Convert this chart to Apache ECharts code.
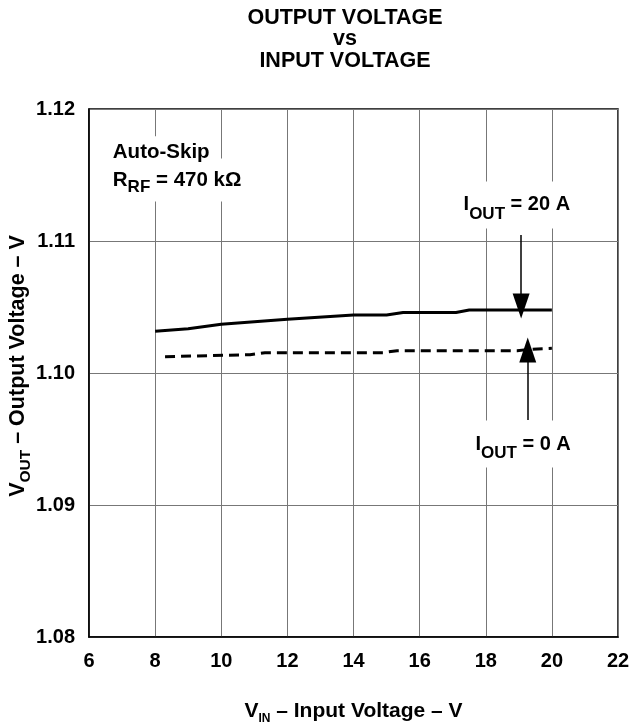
<!DOCTYPE html>
<html>
<head>
<meta charset="utf-8">
<script src="https://cdn.jsdelivr.net/npm/echarts@6/dist/echarts.min.js"></script>
<style>
html,body{margin:0;padding:0;background:#fff;}
#c{width:629px;height:725px;}
</style>
</head>
<body>
<div id="c"></div>
<script>
// ---- data ----
const vinLoad20 = [8, 9, 10, 12, 14, 15, 15.5, 17.1, 17.5, 20];
const voutLoad20 = [1.10316, 1.10335, 1.10370, 1.10408, 1.10440, 1.10440, 1.10459, 1.10459, 1.10478, 1.10478];
const vinLoad0 = [8.3, 10.87, 11.32, 14.89, 15.32, 18.95, 19.34, 20];
const voutLoad0 = [1.10124, 1.10139, 1.10154, 1.10154, 1.10169, 1.10169, 1.10180, 1.10187];
const xTickMin = 6, xTickMax = 22, xTickStep = 2;
const yTickMin = 1.08, yTickMax = 1.12, yTickStep = 0.01;
const titleLines = ['OUTPUT VOLTAGE', 'vs', 'INPUT VOLTAGE'];
// arrow annotations: [x, yStart, yTip]
const arrow20 = [19.07, 1.11045, 1.10508];
const arrow0 = [19.27, 1.09644, 1.10174];
// text annotation anchors (data coords)
const noteAuto = [6.72, 1.11669];
const noteRrf = [6.72, 1.11462];
const note20 = [18.94, 1.11273];
const note0 = [19.13, 1.09462];

const FONT = 'Liberation Sans, Arial, Helvetica, sans-serif';
const chart = echarts.init(document.getElementById('c'), null, {renderer: 'canvas'});

function pairs(xs, ys) { return xs.map((x, i) => [x, ys[i]]); }

const subRich = (mainSize, subSize, shift) => ({
  m: {fontSize: mainSize, fontWeight: 'bold', fontFamily: FONT, color: '#000'},
  s: {fontSize: subSize, fontWeight: 'bold', fontFamily: FONT, color: '#000', padding: [shift * 2, 0, 0, 0]}
});

const option = {
  animation: false,
  backgroundColor: '#fff',
  title: {
    text: titleLines.join('\n'),
    left: 340, top: 2, textAlign: 'center',
    textStyle: {fontSize: 21.5, fontWeight: 'bold', fontFamily: FONT, color: '#000', lineHeight: 21.5}
  },
  grid: {left: 89, right: 11, top: 109, bottom: 88, show: true, borderColor: '#000', borderWidth: 1.5,
    backgroundColor: 'transparent', containLabel: false, outerBoundsMode: 'none'},
  xAxis: {
    type: 'value', min: xTickMin, max: xTickMax, interval: xTickStep,
    axisLine: {show: true, lineStyle: {color: '#000', width: 1.5}},
    axisTick: {show: false},
    splitLine: {show: true, lineStyle: {color: '#777', width: 1}},
    axisLabel: {fontSize: 20, fontWeight: 'bold', fontFamily: FONT, color: '#000', margin: 14},
    name: '{m|V}{s|IN}{m| – Input Voltage – V}',
    nameLocation: 'middle', nameGap: 60, nameMoveOverlap: false,
    nameTextStyle: {rich: subRich(21, 12, 8)}
  },
  yAxis: {
    type: 'value', min: yTickMin, max: yTickMax, interval: yTickStep,
    axisLine: {show: true, lineStyle: {color: '#000', width: 1.5}},
    axisTick: {show: false},
    splitLine: {show: true, lineStyle: {color: '#777', width: 1}},
    axisLabel: {fontSize: 20, fontWeight: 'bold', fontFamily: FONT, color: '#000', margin: 14,
      formatter: v => v.toFixed(2)},
    name: '{m|V}{s|OUT}{m| – Output Voltage – V}',
    nameLocation: 'middle', nameGap: 55, nameMoveOverlap: false,
    nameTextStyle: {rich: subRich(21.5, 15.5, 8), padding: [0, 0, 0, 14]}
  },
  series: [
    {
      name: 'IOUT = 20 A', type: 'line', data: pairs(vinLoad20, voutLoad20),
      showSymbol: false, symbol: 'none',
      lineStyle: {color: '#000', width: 3, cap: 'butt'},
      markLine: {
        silent: true, animation: false,
        symbol: ['none', 'triangle'],
        lineStyle: {color: '#000', width: 1.5, type: 'solid'},
        label: {show: false},
        data: [
          [{coord: [arrow20[0], arrow20[1]], symbol: 'none'}, {coord: [arrow20[0], arrow20[2]], symbol: 'triangle', symbolSize: [17, 25]}],
          [{coord: [arrow0[0], arrow0[1]], symbol: 'none'}, {coord: [arrow0[0], arrow0[2]], symbol: 'triangle', symbolSize: [17, 25]}]
        ]
      }
    },
    {
      name: 'IOUT = 0 A', type: 'line', data: pairs(vinLoad0, voutLoad0),
      showSymbol: false, symbol: 'none',
      lineStyle: {color: '#000', width: 3, type: [10, 6], cap: 'butt'}
    }
  ]
};
chart.setOption(option);

function px(p) { return chart.convertToPixel({gridIndex: 0}, p); }
function note(p, text, rich, align, z, pad) {
  const q = px(p);
  const dx = align === 'left' ? -pad[1] : 0;
  return {
    type: 'text', x: q[0] + dx, y: q[1], z: z,
    style: {
      text: text, rich: rich,
      fontSize: 20, fontWeight: 'bold', fontFamily: FONT, fill: '#000',
      textAlign: align, align: align, textVerticalAlign: 'middle', verticalAlign: 'middle',
      backgroundColor: '#fff', padding: pad
    }
  };
}
const annRich = subRich(20, 17, 9);
const rrfRich = subRich(20.5, 17, 7);
const autoRich = subRich(20.5, 17, 7);
chart.setOption({
  graphic: [
    note(noteRrf, '{m|R}{s|RF}{m| = 470 kΩ}', rrfRich, 'left', 5, [6, 10]),
    note(noteAuto, '{m|Auto-Skip}', autoRich, 'left', 6, [6, 10]),
    note(note20, '{m|I}{s|OUT}{m| = 20 A}', annRich, 'center', 5, [6, 10]),
    note(note0, '{m|I}{s|OUT}{m| = 0 A}', annRich, 'center', 5, [6, 10])
  ]
});
</script>
</body>
</html>
